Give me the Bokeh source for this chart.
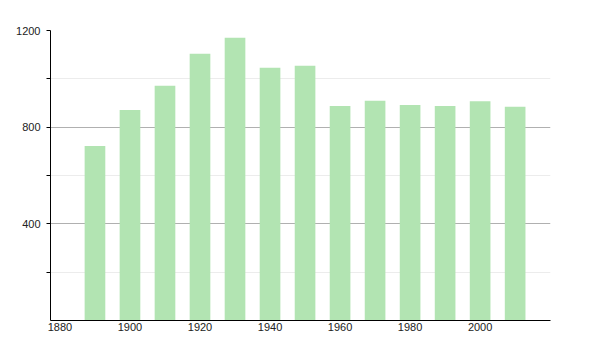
from bokeh.plotting import figure
from bokeh.models import FixedTicker, Range1d, Grid, ColumnDataSource
from bokeh.embed import file_html
from bokeh.resources import INLINE

years = [1890, 1900, 1910, 1920, 1930, 1940, 1950, 1960, 1970, 1980, 1990, 2000, 2010]
population = [722, 871, 971, 1104, 1170, 1046, 1054, 888, 909, 892, 888, 907, 884]
x_ticks = [1880, 1900, 1920, 1940, 1960, 1980, 2000]
y_ticks = [200, 400, 600, 800, 1000, 1200]
y_labels = {200: "", 400: "400", 600: "", 800: "800", 1000: "", 1200: "1200"}

src = ColumnDataSource(dict(x=years, top=population))

p = figure(width=600, height=350, output_backend="svg", toolbar_location=None,
           x_range=Range1d(1877.3, 2020.1), y_range=Range1d(0, 1200),
           min_border_left=50, min_border_right=50, min_border_top=30, min_border_bottom=30)
p.outline_line_color = None
p.background_fill_color = "white"
p.border_fill_color = "white"

p.vbar(x="x", top="top", width=5.9, bottom=0, source=src,
       fill_color="#b2e4b2", line_color=None)

p.xgrid.visible = False
p.ygrid.ticker = FixedTicker(ticks=[400, 800, 1200])
p.ygrid.grid_line_color = "#b0b0b0"
p.ygrid.grid_line_width = 1
minor = Grid(dimension=1, ticker=FixedTicker(ticks=[200, 600, 1000]),
             grid_line_color="#ececec", grid_line_width=1)
p.add_layout(minor)

ya = p.yaxis[0]
ya.ticker = FixedTicker(ticks=y_ticks)
ya.major_label_overrides = y_labels
ya.minor_tick_line_color = None
ya.major_tick_in = 0
ya.major_tick_out = 4
ya.axis_line_color = "black"
ya.major_tick_line_color = "black"
ya.major_label_text_font = "Liberation Sans"
ya.major_label_text_font_size = "11px"
ya.major_label_text_color = "#222222"
ya.major_label_standoff = 6

xa = p.xaxis[0]
xa.ticker = FixedTicker(ticks=x_ticks)
xa.minor_tick_line_color = None
xa.major_tick_in = 0
xa.major_tick_out = 0
xa.axis_line_color = "black"
xa.major_label_text_font = "Liberation Sans"
xa.major_label_text_font_size = "11px"
xa.major_label_text_color = "#222222"
xa.major_label_standoff = 2

open("out.html", "w").write(file_html(p, INLINE))
